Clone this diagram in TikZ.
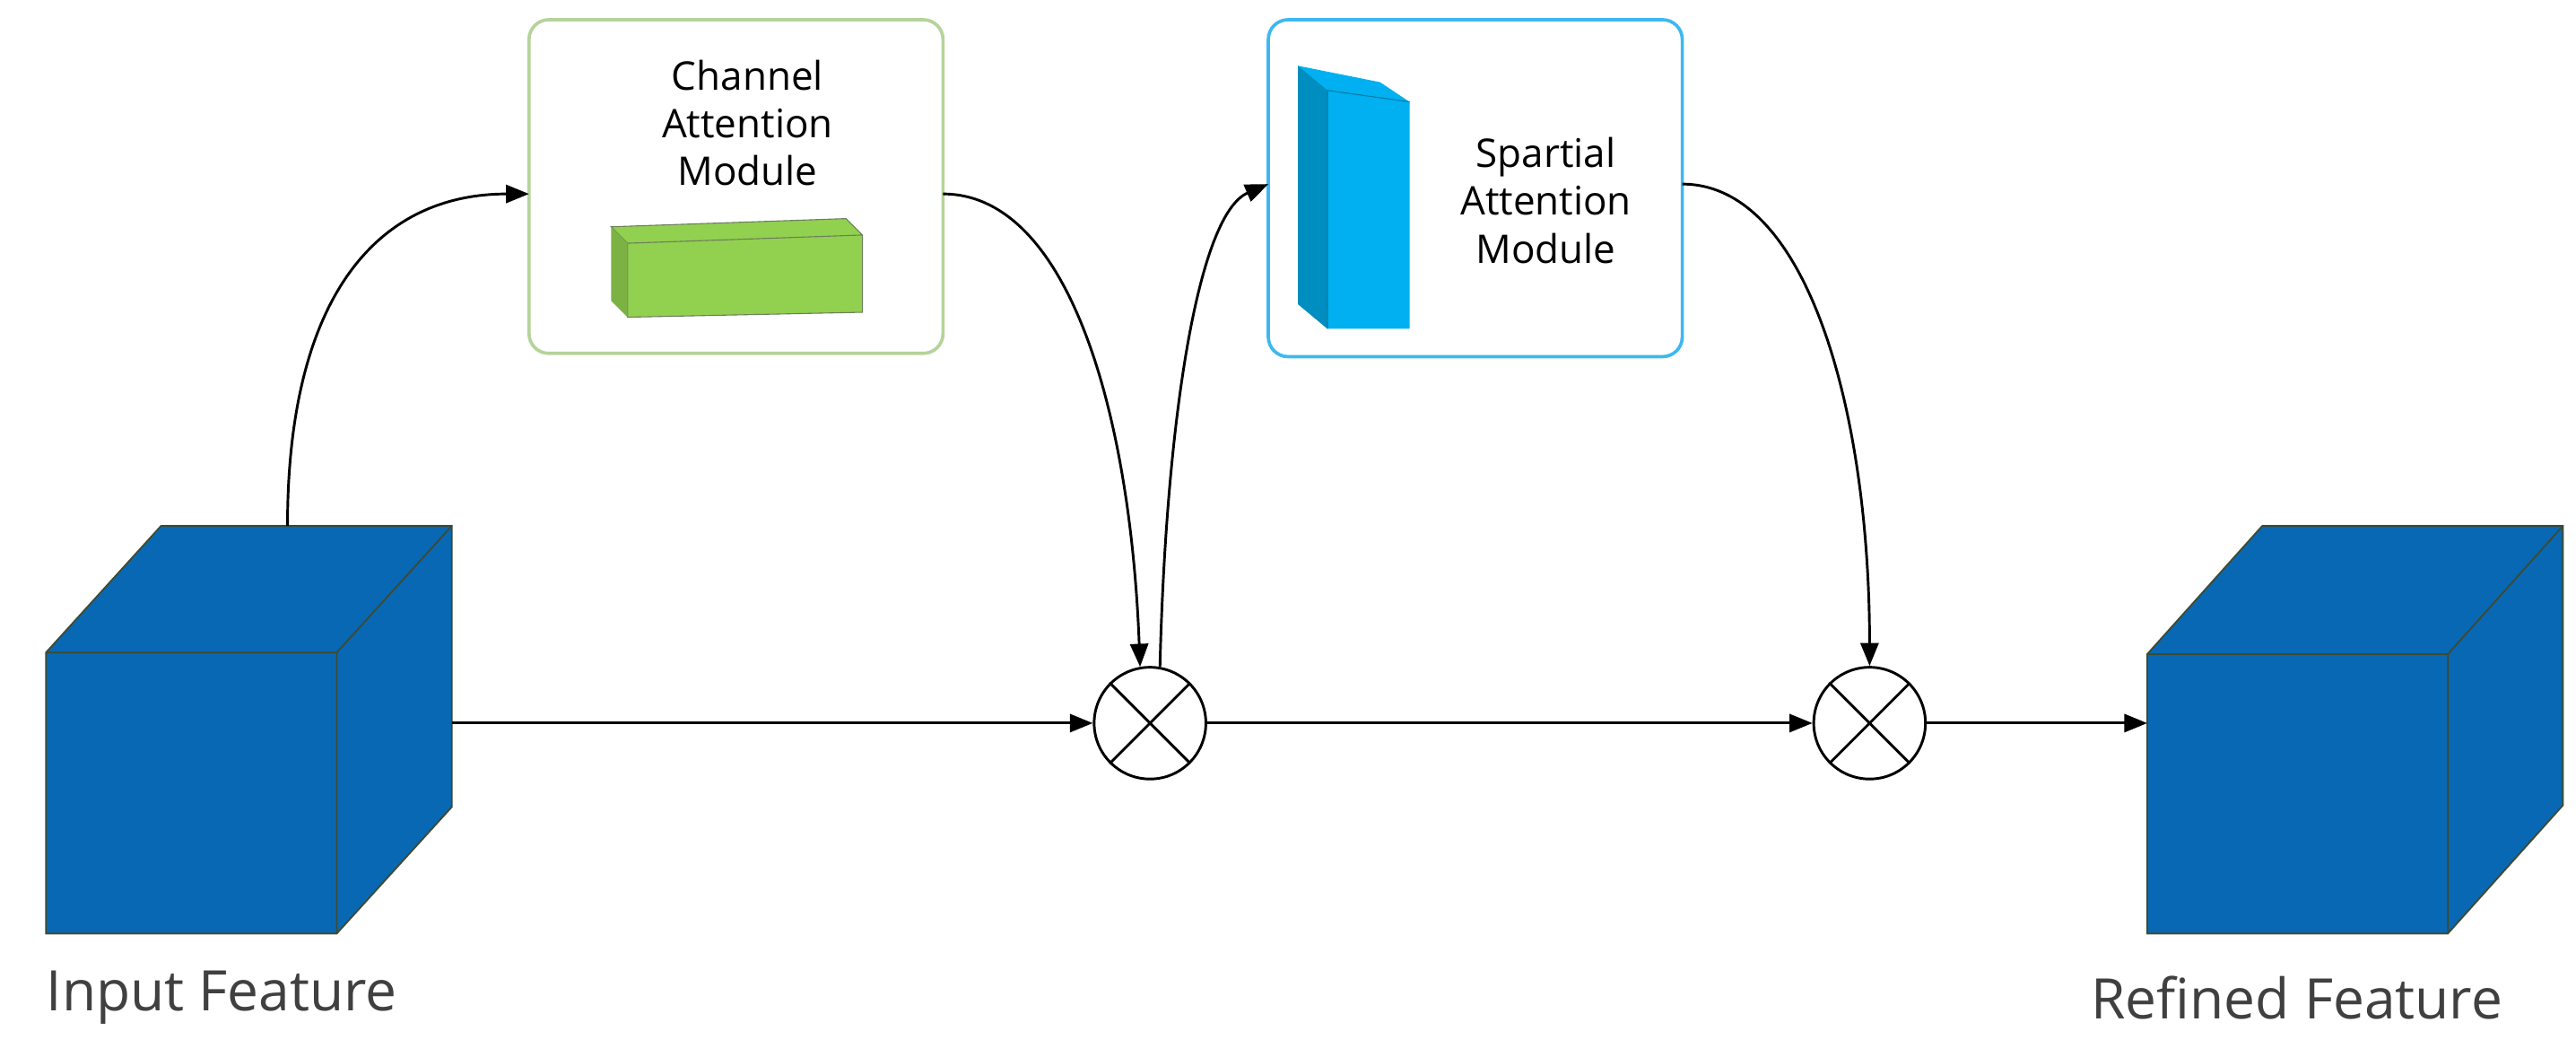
\documentclass[tikz,border=0pt]{standalone}
\usepackage{fontspec}
\setmainfont{Open Sans}
\usetikzlibrary{arrows.meta}
\definecolor{cube}{HTML}{0868B4}
\definecolor{cedge}{HTML}{3E4A30}
\definecolor{gbord}{HTML}{B5D39A}
\definecolor{gfill}{HTML}{92D050}
\definecolor{cbord}{HTML}{3EB8F0}
\definecolor{cfill}{HTML}{00B0F0}
\begin{document}
\begin{tikzpicture}[x=1pt,y=-1pt,
  arr/.style={-{Triangle[length=14pt,width=11pt]},line width=1.6pt},
  mod/.style={rounded corners=12pt,line width=2pt,fill=white},
  lab/.style={font=\fontsize{24}{29}\selectfont,align=center},
  big/.style={font=\fontsize{34}{40}\selectfont},
  mul/.style={circle,draw,line width=1.6pt,minimum size=68pt,inner sep=0pt,fill=white}]
\useasboundingbox (0,0) rectangle (1568,643);
% input cube
\fill[cube,draw=cedge,line width=1pt] (28,397)--(98,320)--(275,320)--(275,491)--(205,568)--(28,568)--cycle;
\draw[cedge,line width=1pt] (28,397)--(205,397)--(275,320) (205,397)--(205,568);
\coordinate (inTop) at (175,320);
\coordinate (inR) at (275,440);
% refined cube
\fill[cube,draw=cedge,line width=1pt] (1307,398)--(1377,320)--(1560,320)--(1560,490)--(1490,568)--(1307,568)--cycle;
\draw[cedge,line width=1pt] (1307,398)--(1490,398)--(1560,320) (1490,398)--(1490,568);
\coordinate (outL) at (1307,440);
% modules
\draw[mod,draw=gbord] (322,12) rectangle (574,215);
\node[lab] at (455,75) {Channel\\Attention\\Module};
\fill[gfill,draw=gbord!60!black,line width=0.6pt] (382,148)--(372,138)--(515,133)--(525,143)--(525,190)--(382,193)--cycle;
\draw[gbord!60!black,line width=0.6pt] (382,148)--(525,143) (382,148)--(382,193);
\fill[gfill!85!black] (372,138)--(382,148)--(382,193)--(372,183)--cycle;
\coordinate (caL) at (322,118);
\coordinate (caR) at (574,118);
\draw[mod,draw=cbord] (772,12) rectangle (1024,217);
\fill[cfill] (790,40)--(840,50)--(858,62)--(858,200)--(808,200)--(790,185)--cycle;
\fill[cfill!80!black] (790,40)--(808,55)--(808,200)--(790,185)--cycle;
\draw[cfill!70!black,line width=0.6pt] (808,55)--(858,62) (808,55)--(808,200);
\node[lab] at (941,122) {Spartial\\Attention\\Module};
\coordinate (saL) at (772,112);
\coordinate (saR) at (1024,112);
% multipliers
\node[mul] (m1) at (700,440) {};
\node[mul] (m2) at (1138,440) {};
\foreach \m in {m1,m2}{\draw[line width=1.6pt] (\m.45)--(\m.225) (\m.135)--(\m.315);}
% connectors
\draw[arr] (inTop) .. controls (175,180) and (230,118) .. (caL);
\draw[arr] (caR) .. controls (650,118) and (688,250) .. (m1.100);
\draw[arr] (m1.80) .. controls (710,250) and (730,130) .. (saL);
\draw[arr] (saR) .. controls (1100,112) and (1138,250) .. (m2.north);
\draw[arr] (inR) -- (m1.west);
\draw[arr] (m1.east) -- (m2.west);
\draw[arr] (m2.east) -- (outL);
\node[big,text=black!75] at (135,607) {Input Feature};
\node[big,text=black!75] at (1398,607) {Refined Feature};
\end{tikzpicture}
\end{document}
